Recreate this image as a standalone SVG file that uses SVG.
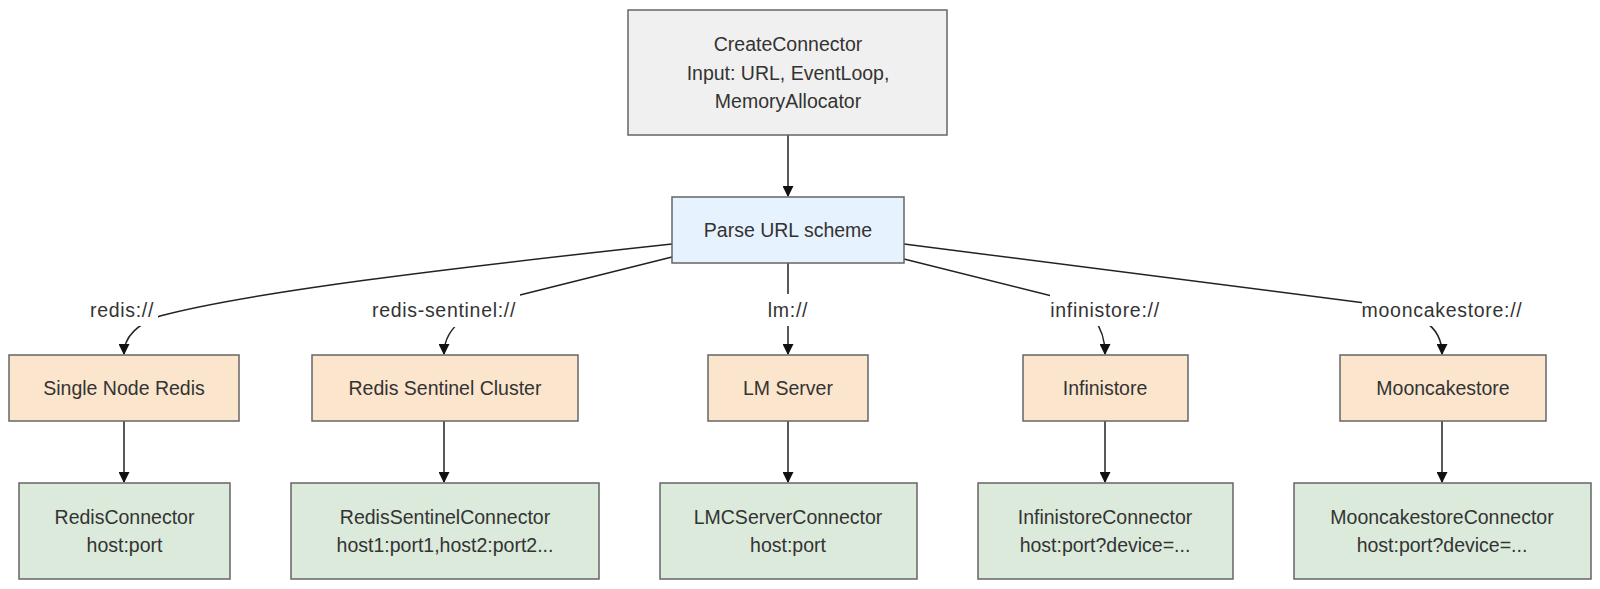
<svg xmlns="http://www.w3.org/2000/svg" width="1600" height="589" viewBox="0 0 1600 589">
<style>
  text { font-family: "Liberation Sans", Arial, sans-serif; font-size: 19.5px; fill: #333; text-anchor: middle; dominant-baseline: central; }
  .lbl { letter-spacing: 0.7px; }
  .box { stroke: #666; stroke-width: 1.5; }
  .gray { fill: #f0f0f0; }
  .blue { fill: #e6f2fd; }
  .orange { fill: #fbe5cd; }
  .green { fill: #dbeadb; }
  .edge { fill: none; stroke: #222; stroke-width: 1.5; }
  .lbg { fill: #ffffff; }
</style>
<defs>
  <marker id="arrow" viewBox="0 0 10 10" refX="9" refY="5" markerWidth="11" markerHeight="11" markerUnits="userSpaceOnUse" orient="auto">
    <path d="M0,0 L10,5 L0,10 z" fill="#111"/>
  </marker>
</defs>
<rect width="1600" height="589" fill="#ffffff"/>

<g id="connectors">
  <path class="edge" d="M788,135 L788,196" marker-end="url(#arrow)"/>
  <path class="edge" d="M788,263 L788,354" marker-end="url(#arrow)"/>
  <path class="edge" d="M672,244 C450,268 250,292 160,316 C135,325 124,338 124,354" marker-end="url(#arrow)"/>
  <path class="edge" d="M672,257 L520,295 C470,310 444,325 444,354" marker-end="url(#arrow)"/>
  <path class="edge" d="M904,259 L1060,298 C1090,308 1105,325 1105,354" marker-end="url(#arrow)"/>
  <path class="edge" d="M904,244 L1365,303 C1420,312 1442,325 1442,354" marker-end="url(#arrow)"/>
  <path class="edge" d="M124,421 L124,482" marker-end="url(#arrow)"/>
  <path class="edge" d="M444,421 L444,482" marker-end="url(#arrow)"/>
  <path class="edge" d="M788,421 L788,482" marker-end="url(#arrow)"/>
  <path class="edge" d="M1105,421 L1105,482" marker-end="url(#arrow)"/>
  <path class="edge" d="M1442,421 L1442,482" marker-end="url(#arrow)"/>
  <g id="edge-labels">
    <rect class="lbg" x="86" y="294" width="72" height="32"/>
    <text class="lbl" x="122" y="310">redis://</text>
    <rect class="lbg" x="368" y="294" width="152" height="33"/>
    <text class="lbl" x="444" y="310">redis-sentinel://</text>
    <rect class="lbg" x="760" y="294" width="56" height="32"/>
    <text class="lbl" x="788" y="310">lm://</text>
    <rect class="lbg" x="1050" y="294" width="110" height="32"/>
    <text class="lbl" x="1105" y="310">infinistore://</text>
    <rect class="lbg" x="1362" y="294" width="160" height="32"/>
    <text class="lbl" x="1442" y="310">mooncakestore://</text>
  </g>
</g>

<g id="create">
  <rect class="box gray" x="628" y="10" width="319" height="125"/>
  <text x="788" y="43.7">CreateConnector</text>
  <text x="788" y="72.5">Input: URL, EventLoop,</text>
  <text x="788" y="101.3">MemoryAllocator</text>
</g>
<g id="parse">
  <rect class="box blue" x="672" y="197" width="232" height="66"/>
  <text x="788" y="230">Parse URL scheme</text>
</g>

<g id="single">
  <rect class="box orange" x="9" y="355" width="230" height="66"/>
  <text x="124" y="388">Single Node Redis</text>
</g>
<g id="sentinel">
  <rect class="box orange" x="312" y="355" width="266" height="66"/>
  <text x="445" y="388">Redis Sentinel Cluster</text>
</g>
<g id="lm">
  <rect class="box orange" x="708" y="355" width="160" height="66"/>
  <text x="788" y="388">LM Server</text>
</g>
<g id="infinistore">
  <rect class="box orange" x="1023" y="355" width="165" height="66"/>
  <text x="1105" y="388">Infinistore</text>
</g>
<g id="mooncake">
  <rect class="box orange" x="1340" y="355" width="206" height="66"/>
  <text x="1443" y="388">Mooncakestore</text>
</g>

<g id="redisconn">
  <rect class="box green" x="19" y="483" width="211" height="96"/>
  <text x="124.5" y="516.6">RedisConnector</text>
  <text x="124.5" y="545.4">host:port</text>
</g>
<g id="sentinelconn">
  <rect class="box green" x="291" y="483" width="308" height="96"/>
  <text x="445" y="516.6">RedisSentinelConnector</text>
  <text x="445" y="545.4">host1:port1,host2:port2...</text>
</g>
<g id="lmconn">
  <rect class="box green" x="660" y="483" width="257" height="96"/>
  <text x="788" y="516.6">LMCServerConnector</text>
  <text x="788" y="545.4">host:port</text>
</g>
<g id="infiniconn">
  <rect class="box green" x="978" y="483" width="255" height="96"/>
  <text x="1105" y="516.6">InfinistoreConnector</text>
  <text x="1105" y="545.4">host:port?device=...</text>
</g>
<g id="moonconn">
  <rect class="box green" x="1294" y="483" width="297" height="96"/>
  <text x="1442" y="516.6">MooncakestoreConnector</text>
  <text x="1442" y="545.4">host:port?device=...</text>
</g>
</svg>
